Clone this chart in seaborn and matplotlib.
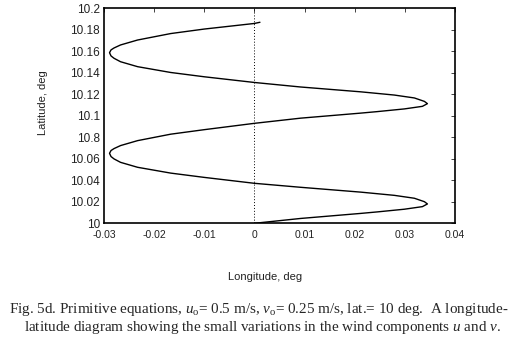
import pandas as pd
import matplotlib
matplotlib.use("Agg")
import matplotlib.pyplot as plt
import seaborn as sns

# Trajectory (start at bottom, end near top)
longitude = [0.0, 0.0092, 0.0212, 0.0245, 0.0299, 0.0335, 0.0345, 0.0339, 0.0319,
             0.0279, 0.0212, 0.0092, 0.0,
             -0.0100, -0.0167, -0.0233, -0.0267, -0.0280, -0.0286, -0.0289,
             -0.0286, -0.0280, -0.0267, -0.0233, -0.0167, -0.0100, 0.0,
             0.0092, 0.0212, 0.0245, 0.0299, 0.0335, 0.0345, 0.0339, 0.0319,
             0.0279, 0.0212, 0.0092, 0.0,
             -0.0100, -0.0167, -0.0233, -0.0267, -0.0280, -0.0286, -0.0289,
             -0.0286, -0.0280, -0.0267, -0.0233, -0.0167, -0.0100, 0.0, 0.0011]
latitude = [10.0, 10.0045, 10.0092, 10.0106, 10.0131, 10.0155, 10.0180, 10.0201, 10.0233,
            10.0260, 10.0290, 10.0335, 10.0372,
            10.0427, 10.0467, 10.0521, 10.0567, 10.0599, 10.0621, 10.0651,
            10.0677, 10.0695, 10.0723, 10.0769, 10.0829, 10.0871, 10.0930,
            10.0978, 10.1025, 10.1039, 10.1064, 10.1088, 10.1113, 10.1134, 10.1166,
            10.1193, 10.1223, 10.1268, 10.1310,
            10.1363, 10.1403, 10.1457, 10.1503, 10.1535, 10.1557, 10.1587,
            10.1613, 10.1631, 10.1659, 10.1705, 10.1765, 10.1807, 10.1859, 10.1870]

x_ticks = [-0.03, -0.02, -0.01, 0, 0.01, 0.02, 0.03, 0.04]
x_labels = ["-0.03", "-0.02", "-0.01", "0", "0.01", "0.02", "0.03", "0.04"]
y_ticks = [10.0, 10.02, 10.04, 10.06, 10.08, 10.1, 10.12, 10.14, 10.16, 10.18, 10.2]
y_labels = ["10", "10.02", "10.04", "10.06", "10.8", "10.1", "10.12", "10.14",
            "10.16", "10.18", "10.2"]

sns.set_style("white")
plt.rcParams["font.family"] = ["Liberation Sans", "DejaVu Sans"]
plt.rcParams["mathtext.fontset"] = "custom"
plt.rcParams["mathtext.rm"] = "Liberation Serif"
plt.rcParams["mathtext.it"] = "Liberation Serif:italic"

df = pd.DataFrame({"lon": longitude, "lat": latitude})

fig = plt.figure(figsize=(5.32, 3.42), dpi=100)
ax = fig.add_axes([104 / 532, 1 - 223.3 / 342, 351 / 532, 215 / 342])

sns.lineplot(data=df, x="lon", y="lat", sort=False, estimator=None,
             color="black", linewidth=1.0, ax=ax)
ax.axvline(0, color="black", linestyle=(0, (1, 2)), linewidth=0.7)

ax.set_xlim(-0.03, 0.04)
ax.set_ylim(10.0, 10.2)
ax.set_xticks(x_ticks)
ax.set_xticklabels(x_labels)
ax.set_yticks(y_ticks)
ax.set_yticklabels(y_labels)
ax.set_xlabel("")
ax.set_ylabel("")
ax.tick_params(direction="in", length=3, width=0.6, colors="#222222",
               top=True, right=True)
ax.tick_params(axis="x", labelsize=7.5, pad=5)
ax.tick_params(axis="y", labelsize=8.5, pad=3)
for s in ax.spines.values():
    s.set_color("black")
    s.set_linewidth(1.2)

fig.text(265 / 532, 1 - 277 / 342, "Longitude, deg", ha="center", va="center",
         fontsize=8, color="#222222")
fig.text(43 / 532, 1 - 103 / 342, "Latitude, deg", ha="center", va="center",
         rotation=90, fontsize=8, color="#222222")

cap1 = r"Fig. 5d. Primitive equations, $u_{\rm o}$= 0.5 m/s, $v_{\rm o}$= 0.25 m/s, lat.= 10 deg.  A longitude-"
cap2 = r"latitude diagram showing the small variations in the wind components $u$ and $v$."
fig.text(259 / 532, 1 - 309 / 342, cap1, ha="center", va="center", fontsize=10.9,
         family="Liberation Serif")
fig.text(262 / 532, 1 - 328 / 342, cap2, ha="center", va="center", fontsize=10.9,
         family="Liberation Serif")

fig.savefig("out.png", dpi=100)
